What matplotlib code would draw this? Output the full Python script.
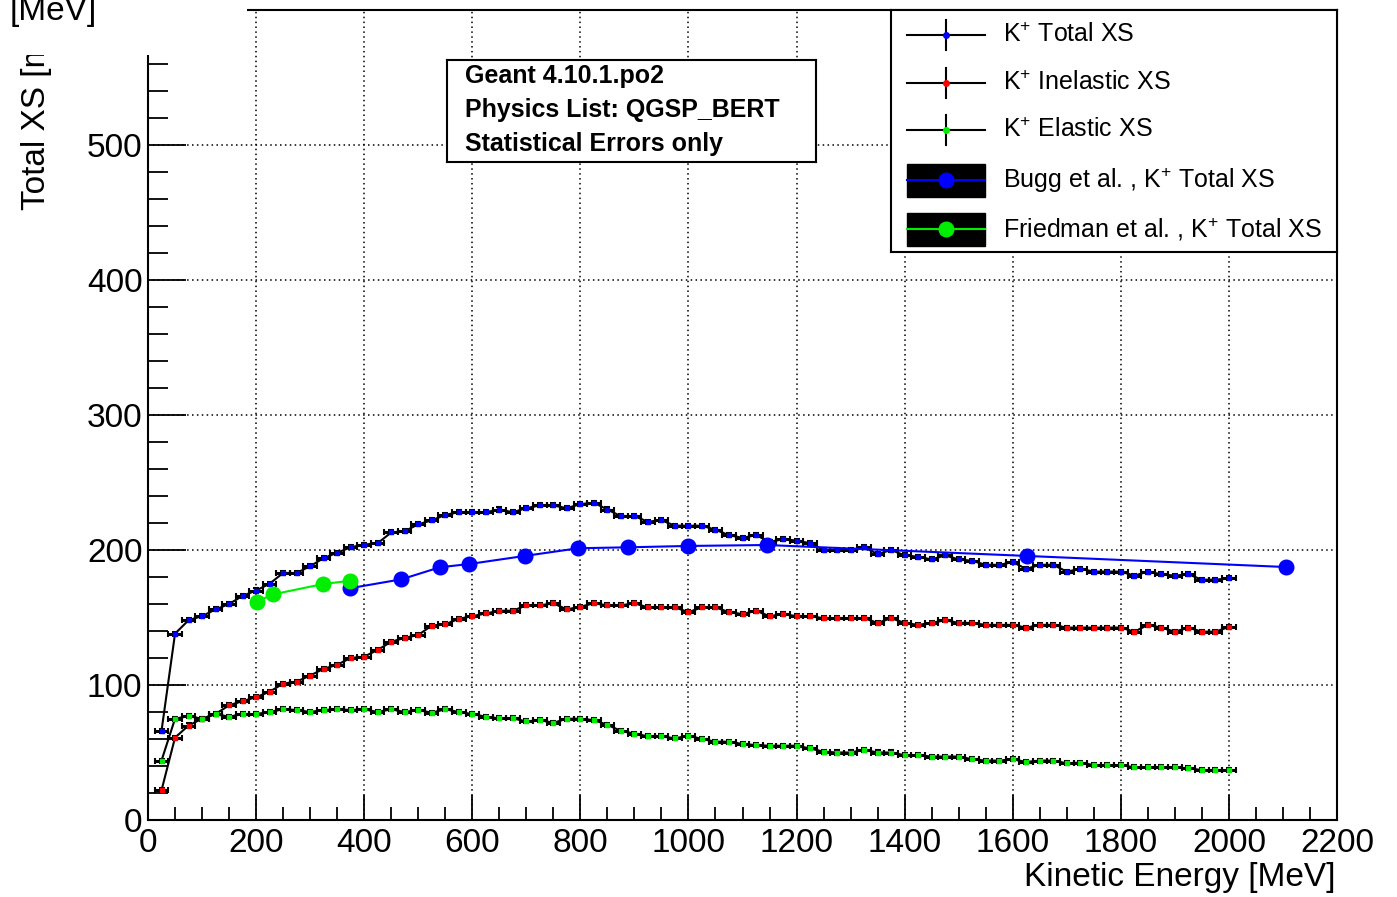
import matplotlib
matplotlib.use('Agg')
import matplotlib.pyplot as plt
from matplotlib.patches import Rectangle
from matplotlib.ticker import MultipleLocator

plt.rcParams['font.family'] = ['Liberation Sans', 'DejaVu Sans']
plt.rcParams['mathtext.fontset'] = 'custom'
plt.rcParams['mathtext.rm'] = 'Liberation Sans'

# ---------------- data ----------------
energy = [25, 50, 75, 100, 125, 150, 175, 200, 225, 250, 275, 300, 325, 350, 375, 400,
          425, 450, 475, 500, 525, 550, 575, 600, 625, 650, 675, 700, 725, 750, 775, 800,
          825, 850, 875, 900, 925, 950, 975, 1000, 1025, 1050, 1075, 1100, 1125, 1150, 1175, 1200,
          1225, 1250, 1275, 1300, 1325, 1350, 1375, 1400, 1425, 1450, 1475, 1500, 1525, 1550, 1575, 1600,
          1625, 1650, 1675, 1700, 1725, 1750, 1775, 1800, 1825, 1850, 1875, 1900, 1925, 1950, 1975, 2000]

total_xs = [66, 138, 148, 151, 156, 160, 166, 170, 175, 183, 183, 188, 194, 198, 202, 204,
            205, 213, 214, 219, 222, 226, 228, 228, 228, 230, 228, 231, 233, 233, 231, 234,
            235, 230, 225, 225, 221, 222, 218, 218, 218, 215, 211, 209, 211, 206, 208, 207,
            205, 200, 200, 200, 202, 197, 200, 196, 195, 193, 196, 193, 192, 189, 189, 191,
            186, 189, 189, 184, 186, 184, 184, 184, 181, 184, 182, 181, 182, 178, 178, 179]

inelastic_xs = [22, 61, 70, 75, 78.5, 85, 88, 91, 95, 101, 102.5, 107, 112, 115, 120, 121,
                126, 132, 135, 137, 144, 145, 149, 151, 153, 155, 155, 159, 159, 160.5, 156, 158,
                160.5, 159, 159, 160.5, 157.5, 157.5, 157.5, 154, 157.5, 157.5, 154, 152.5, 155, 151, 152.5, 151,
                151, 149.5, 149.5, 149.5, 149.5, 146, 149.5, 146, 144.5, 146, 148, 146, 146, 144.5, 144.5, 144.5,
                142.5, 144.5, 144.5, 142.5, 142.5, 142.5, 142.5, 142.5, 139.5, 144.5, 142.5, 139.5, 142.5, 139.5, 139.5, 143]

elastic_xs = [44, 75, 77, 75, 78.5, 76.5, 78.5, 78.5, 80, 82, 81.5, 80, 81.5, 82, 81.5, 82,
              80, 82, 80, 81.5, 79.5, 82, 80, 78.5, 76.5, 75.3, 75.3, 73, 74, 72, 75, 75,
              74, 70.5, 66, 64, 62, 62, 60.5, 62.5, 60, 58, 58, 56.3, 55.5, 55, 55, 55,
              53, 50.6, 50, 50, 52, 50, 50, 48, 48, 47, 47, 47, 45, 44, 44, 45,
              43, 44, 44, 42, 42.5, 40.7, 40.7, 40.7, 39, 39, 39, 39, 38.3, 37, 37, 37]

bugg_energy = [374, 469, 540, 594, 697, 796, 889, 1000, 1145, 1626, 2105]
bugg_xs = [171.7, 178.3, 187.2, 189.6, 195.6, 201.3, 202, 203, 203.7, 195.6, 187.4]

friedman_energy = [201, 232, 324, 374]
friedman_xs = [161.8, 167.2, 174.8, 177.2]

bin_half_width = 12.5
stat_err = 1.5

legend_labels = [r'$\mathregular{K^{+}}$ Total XS',
                 r'$\mathregular{K^{+}}$ Inelastic XS',
                 r'$\mathregular{K^{+}}$ Elastic XS',
                 r'Bugg et al. , $\mathregular{K^{+}}$ Total XS',
                 r'Friedman et al. , $\mathregular{K^{+}}$ Total XS']
info_lines = ['Geant 4.10.1.po2', 'Physics List: QGSP_BERT', 'Statistical Errors only']

# ---------------- figure ----------------
W, H = 1397, 897
GREEN = '#00ee00'
fig = plt.figure(figsize=(W / 100, H / 100), dpi=100)


def px_rect(x0, y0, x1, y1):
    return [x0 / W, 1 - y1 / H, (x1 - x0) / W, (y1 - y0) / H]


ax = fig.add_axes(px_rect(148, 10, 1337, 820))
ax.set_xlim(0, 2200)
ax.set_ylim(0, 600)
ax.xaxis.set_major_locator(MultipleLocator(200))
ax.xaxis.set_minor_locator(MultipleLocator(50))
ax.yaxis.set_major_locator(MultipleLocator(100))
ax.yaxis.set_minor_locator(MultipleLocator(20))
ax.tick_params(axis='x', which='major', direction='in', length=18, width=1.3,
               labelsize=24, pad=6, top=False)
ax.tick_params(axis='x', which='minor', direction='in', length=9.5, width=1.3, top=False)
ax.tick_params(axis='y', which='major', direction='in', length=27, width=1.3,
               labelsize=24, pad=4, right=False)
ax.tick_params(axis='y', which='minor', direction='in', length=14.5, width=1.3, right=False)
ax.grid(True, which='major', linestyle=(0, (1, 2.2)), color='black', linewidth=1.1)
for s in ax.spines.values():
    s.set_linewidth(1.5)
    s.set_color('black')

for ys, col in [(total_xs, 'blue'), (inelastic_xs, 'red'), (elastic_xs, GREEN)]:
    ax.plot(energy, ys, color='black', lw=1.5, zorder=3)
    ax.errorbar(energy, ys, xerr=bin_half_width, yerr=stat_err, fmt='none',
                ecolor='black', elinewidth=2.2, capsize=2.2, capthick=1.5, zorder=4)
    ax.plot(energy, ys, 's', color=col, ms=3.5, mec=col, zorder=5)

ax.plot(bugg_energy, bugg_xs, '-o', color='blue', lw=1.5, ms=10.5, zorder=6)
ax.plot(friedman_energy, friedman_xs, '-o', color=GREEN, lw=1.5, ms=10.5, zorder=6)

# ---------------- info box ----------------
tb = fig.add_axes(px_rect(447, 60, 816, 162))
tb.set_xlim(447, 816)
tb.set_ylim(162, 60)
tb.set_xticks([])
tb.set_yticks([])
for s in tb.spines.values():
    s.set_linewidth(1.5)
for yy, t in zip([76, 110, 144], info_lines):
    tb.text(465, yy, t, fontsize=18, fontweight='bold', va='center', ha='left')

# ---------------- legend ----------------
lg = fig.add_axes(px_rect(891, 10, 1337, 252))
lg.set_xlim(891, 1337)
lg.set_ylim(252, 10)
lg.set_xticks([])
lg.set_yticks([])
for s in lg.spines.values():
    s.set_linewidth(1.5)
rows = [35, 83, 130, 180, 229]
colors = ['blue', 'red', GREEN, 'blue', GREEN]
for i, (yy, col, lab) in enumerate(zip(rows, colors, legend_labels)):
    if i < 3:
        lg.plot([907, 985], [yy, yy], color='black', lw=1.5)
        lg.plot([946, 946], [yy - 15, yy + 15], color='black', lw=1.5)
        lg.plot([946], [yy], 'o', color=col, ms=4)
    else:
        lg.add_patch(Rectangle((907, yy - 16), 78, 33, color='black'))
        lg.plot([907, 985], [yy, yy], color=col, lw=1.5)
        lg.plot([946], [yy], 'o', color=col, ms=10.5)
    lg.text(1003, yy, lab, fontsize=18, va='center', ha='left')

# ---------------- axis titles ----------------
fig.text(1335 / W, 1 - 877 / H, 'Kinetic Energy [MeV]', ha='right', va='center', fontsize=24)
fig.text(37 / W, 1 - 210 / H, 'Total XS [mb]', rotation=90, ha='center', va='bottom',
         fontsize=24, zorder=3)
fig.patches.append(Rectangle((0, 1 - 55 / H), 247 / W, 55 / H, transform=fig.transFigure,
                             facecolor='white', edgecolor='none', zorder=5))
fig.text(10 / W, 1 - 20 / H, '[MeV]', ha='left', va='baseline', fontsize=24, zorder=10)

fig.savefig('out.png', dpi=100)
